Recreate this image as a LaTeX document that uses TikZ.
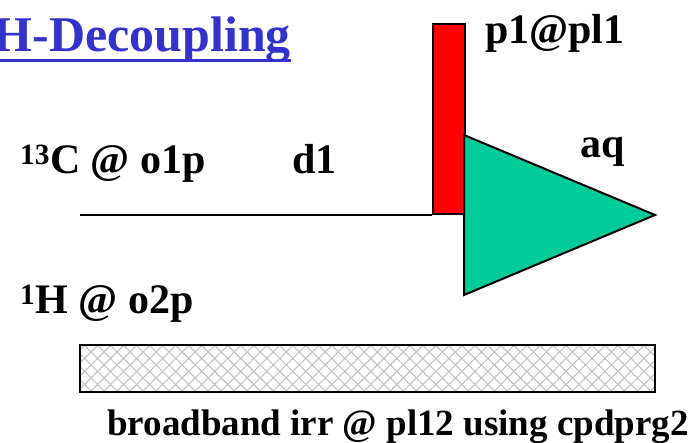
\documentclass[tikz,border=0pt]{standalone}
\usepackage{fontspec}
\setmainfont{Liberation Serif}
\usetikzlibrary{patterns.meta}
\definecolor{titleblue}{RGB}{51,51,204}
\definecolor{pulsered}{RGB}{255,0,0}
\definecolor{acqgreen}{RGB}{0,204,153}
\definecolor{hatchgray}{RGB}{195,195,195}
\tikzset{
  lbl/.style={inner sep=0pt, anchor=base west, font=\bfseries\fontsize{42}{48}\selectfont},
  small lbl/.style={lbl, font=\bfseries\fontsize{37}{44}\selectfont},
  title/.style={inner sep=0pt, anchor=base east, text=titleblue, font=\bfseries\fontsize{50}{58}\selectfont},
  pulse/.style={draw=black, line width=2pt, fill=pulsered},
  fid/.style={draw=black, line width=2pt, fill=acqgreen},
  wire/.style={draw=black, line width=2pt},
  hatch/.style={pattern={Lines[angle=#1, distance=9.2pt, line width=1.1pt]}, pattern color=hatchgray},
}
\begin{document}
\begin{tikzpicture}[x=1pt, y=-1pt]
  \useasboundingbox (0,0) rectangle (696,443);

  % heading, underlined
  \node[title] (head) at (291,52) {H-Decoupling};
  \draw[titleblue, line width=3pt] (0,61) -- (head.base east |- 0,61);

  % 13C channel: delay, pulse, acquisition
  \coordinate (start) at (80,215);
  \node[pulse, minimum width=32pt, minimum height=190pt, inner sep=0pt, anchor=south west] (p1) at (432,215) {};
  \draw[wire] (start) -- (p1.south west);
  \coordinate (fa) at (464,135);
  \coordinate (fb) at (464,295);
  \coordinate (fc) at (655,215);
  \draw[fid, line join=miter] (fa) -- (fc) -- (fb) -- cycle;

  \node[lbl] (cchan) at (20,174) {\textsuperscript{13}C @ o1p};
  \node[lbl] (d1) at (292,174) {d1};
  \node[lbl] (p1lbl) at (485,44) {p1@pl1};
  \node[lbl] (aq) at (580,158) {aq};

  % 1H channel: broadband decoupling
  \node[lbl] (hchan) at (20,314) {\textsuperscript{1}H @ o2p};
  \path[fill=white] (80,345) rectangle (655,392);
  \path[hatch=45] (80,345) rectangle (655,392);
  \path[hatch=-45] (80,345) rectangle (655,392);
  \draw[black, line width=2.2pt] (80,345) rectangle (655,392);
  \node[small lbl] (cpd) at (107,435) {broadband irr @ pl12 using cpdprg2};
\end{tikzpicture}
\end{document}
